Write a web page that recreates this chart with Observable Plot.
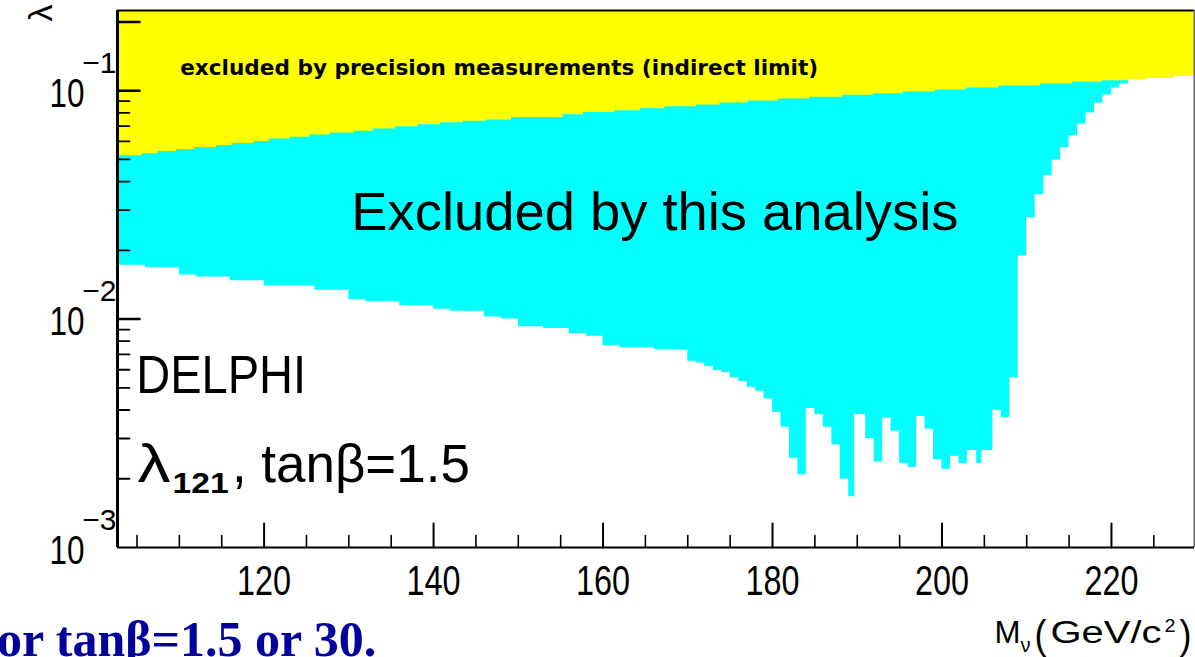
<!DOCTYPE html>
<html>
<head>
<meta charset="utf-8">
<script src="https://cdn.jsdelivr.net/npm/d3@7"></script>
<script src="https://cdn.jsdelivr.net/npm/@observablehq/plot@0.6"></script>
<style>
  html, body { margin: 0; padding: 0; background: #fff; width: 1195px; height: 657px; overflow: hidden; }
  #wrap { position: relative; width: 1195px; height: 657px; }
  #note { position: absolute; left: -3px; top: 614px; font: bold 50px "Liberation Serif", "Times New Roman", serif;
          line-height: 50px; color: #00009c; white-space: nowrap; }
</style>
</head>
<body>
<div id="wrap"></div>
<script>
// ---- axis ranges ----
const xMin = 102.7, xMax = 229.8;
const yMin = 0.001, yTop = 0.2244;

// ---- lower edge of the region excluded by this analysis (step histogram) ----
const lowMass = [102.7, 106, 110, 112, 116, 120, 126, 130, 132, 136, 140, 142, 146, 148, 150, 153, 156, 158, 160, 162, 166,
  170, 171, 172, 173, 174, 175, 176, 177, 178, 179, 180, 181, 182, 183, 184, 185, 186, 187, 188, 189, 189.7,
  191, 192, 193, 194, 195, 196, 197, 198, 199, 200, 201, 202, 203, 204.1, 204.7, 206, 207, 208,
  209, 210, 211, 212, 213, 214, 215, 216, 217, 218, 219, 220, 221];
const lowLambda = [0.0172, 0.0168, 0.0156, 0.0153, 0.0147, 0.01395, 0.01336, 0.01215, 0.0119, 0.01148, 0.01103, 0.01081,
  0.0102, 0.0100, 0.00925, 0.00909, 0.00864, 0.00841, 0.00765, 0.0075, 0.00736,
  0.00654, 0.00643, 0.0062, 0.00596, 0.00584, 0.00553, 0.00533, 0.00503, 0.00483, 0.00447, 0.0039, 0.00336, 0.00246,
  0.00208, 0.00406, 0.00382, 0.00336, 0.00282, 0.00199, 0.00167, 0.00382,
  0.00299, 0.00237, 0.00369, 0.00323, 0.00233, 0.00224, 0.00375, 0.00329, 0.00242, 0.0022, 0.00251, 0.00233, 0.00266,
  0.00233, 0.00266, 0.00399, 0.00371, 0.00553,
  0.0189, 0.0278, 0.035, 0.0424, 0.0497, 0.0564, 0.0635, 0.0714, 0.0799, 0.088, 0.0958, 0.1028, 0.107];
const lowEndMass = 222;

// ---- indirect limit from precision measurements (lower edge of yellow band) ----
const limitMass = [102.7, 105.6, 107.5, 109.7, 111.8, 114.4, 116.2, 118.8, 120.6, 123.1, 125.4, 127.8, 130.6, 132.9,
  135.5, 138.2, 140.8, 143.5, 146.3, 149.2, 155.3, 157.7, 161.4, 164.4, 167.3, 171.0, 173.8, 177.1, 180.7, 184.4,
  188.3, 191.9, 195.4, 199.2, 202.9, 206.7, 211.6, 215.4, 218.9, 221.9, 224.1, 227.5];
const limitLambda = [0.0519, 0.0529, 0.0542, 0.0553, 0.0564, 0.0575, 0.0587, 0.0599, 0.0614, 0.0626, 0.0639, 0.0652,
  0.0665, 0.0679, 0.0695, 0.0709, 0.0724, 0.0734, 0.0744, 0.0764, 0.0785, 0.0803, 0.0817, 0.0834, 0.0851, 0.0866,
  0.0883, 0.0901, 0.0920, 0.0935, 0.0954, 0.0970, 0.0987, 0.1007, 0.1027, 0.1048, 0.1070, 0.1088, 0.1106, 0.1114,
  0.1132, 0.1155];

// ---- ticks ----
const yLabelTicks = [0.001, 0.01, 0.1];
const yLabelExps = ["\u22123", "\u22122", "\u22121"];
const yMajorTicks = [0.01, 0.1, 0.2];
const yMinorTicks = [0.002, 0.003, 0.004, 0.005, 0.006, 0.007, 0.008, 0.009,
                     0.02, 0.03, 0.04, 0.05, 0.06, 0.07, 0.08, 0.09];
const xMajorTicks = [120, 140, 160, 180, 200, 220];
const xMinorTicks = [105, 110, 115, 125, 130, 135, 145, 150, 155, 165, 170, 175, 185, 190, 195, 205, 210, 215, 225];

// ---- tables for the marks ----
const lowRows = lowMass.map((m, i) => ({m, lam: lowLambda[i]}))
  .concat([{m: lowEndMass, lam: lowLambda[lowLambda.length - 1]}]);
const limitRows = limitMass.map((m, i) => ({m, lam: limitLambda[i]}))
  .concat([{m: xMax, lam: limitLambda[limitLambda.length - 1]}]);

const mL = 117, mT = 10, mR = 1, mB = 110;

// in-plot annotations (data coordinates)
const notes = [
  {text: "excluded by precision measurements (indirect limit)", m: 110.1, lam: 0.1175, size: 21, width: 638, family: "DejaVu Sans", weight: "bold"},
  {text: "Excluded by this analysis", m: 130.3, lam: 0.0246, size: 53, width: 607},
  {text: "DELPHI", m: 104.9, lam: 0.00474, size: 54, width: 170},
  {text: "\u03bb", m: 105.05, lam: 0.00193, size: 54, width: 33},
  {text: "121", m: 109.2, lam: 0.00173, size: 30, width: 56, weight: "bold"},
  {text: ", tan\u03b2=1.5", m: 116.2, lam: 0.00193, size: 54, width: 238}
];
// axis title pieces (pixel positions)
const titleBits = [
  {text: "M", px: 994, py: 642, size: 31, width: 26},
  {text: "\u03bd", px: 1020, py: 651, size: 20, width: 10},
  {text: "(", px: 1034, py: 648, size: 40, width: 12},
  {text: "GeV/c", px: 1050, py: 642, size: 31, width: 111},
  {text: "2", px: 1164, py: 631, size: 19, width: 11},
  {text: ")", px: 1179, py: 648, size: 40, width: 12}
];
// target text widths (px), keyed by text
const widths = new Map([...notes, ...titleBits].map(d => [d.text, d.width]));
widths.set("10", 35);
xMajorTicks.forEach(t => widths.set(String(t), 54));

const stick = {draw(context, l) { context.moveTo(0, 0); context.lineTo(0, -l); }};

const marks = [
  Plot.areaY(lowRows, {x: "m", y1: "lam", y2: () => yTop, curve: "step-after", fill: "#00ffff"}),
  Plot.areaY(limitRows, {x: "m", y1: "lam", y2: () => yTop, curve: "step-after", fill: "#ffff00"}),
  // frame
  Plot.ruleY([yTop], {stroke: "black", strokeWidth: 2}),
  Plot.ruleX([xMax], {stroke: "#666", strokeWidth: 2}),
  Plot.ruleY([yMin], {stroke: "black", strokeWidth: 2}),
  Plot.ruleX([xMin], {stroke: "black", strokeWidth: 3}),
  // ticks
  Plot.vector(yMajorTicks, {y: d => d, frameAnchor: "left", length: 22, rotate: 90, anchor: "start", shape: stick, stroke: "black", strokeWidth: 2.5}),
  Plot.vector(yMinorTicks, {y: d => d, frameAnchor: "left", length: 12, rotate: 90, anchor: "start", shape: stick, stroke: "black", strokeWidth: 1.8}),
  Plot.vector(xMajorTicks, {x: d => d, frameAnchor: "bottom", length: 24, rotate: 0, anchor: "start", shape: stick, stroke: "black", strokeWidth: 2}),
  Plot.vector(xMinorTicks, {x: d => d, frameAnchor: "bottom", length: 12, rotate: 0, anchor: "start", shape: stick, stroke: "black", strokeWidth: 1.6}),
  // tick labels
  Plot.text(yLabelTicks, {y: d => d, frameAnchor: "left", text: () => "10", textAnchor: "end", lineAnchor: "bottom",
    dx: -33, dy: 16, fontSize: 40, fill: "black"}),
  Plot.text(yLabelTicks, {y: d => d, frameAnchor: "left", text: (d, i) => yLabelExps[i], textAnchor: "end", lineAnchor: "bottom",
    dx: -1, dy: -18, fontSize: 30, fill: "black"}),
  Plot.text(xMajorTicks, {x: d => d, frameAnchor: "bottom", text: d => String(d), textAnchor: "middle", lineAnchor: "bottom",
    dy: 47, fontSize: 42, fill: "black"}),
  // y title
  Plot.text(["\u03bb"], {frameAnchor: "top-left", dx: 27 - mL, dy: 21 - mT, rotate: -90, fontSize: 34, fill: "black"}),
  // annotations
  ...notes.map(n => Plot.text([n.text], {x: () => n.m, y: () => n.lam, text: d => d, textAnchor: "start", lineAnchor: "bottom",
    fontSize: n.size, fontWeight: n.weight || "normal", fontFamily: n.family || "Liberation Sans, Arial, sans-serif",
    fill: "black"})),
  ...titleBits.map(b => Plot.text([b.text], {frameAnchor: "top-left", dx: b.px - mL, dy: b.py - mT, text: d => d,
    textAnchor: "start", lineAnchor: "bottom", fontSize: b.size, fill: "black"}))
];

const chart = Plot.plot({
  width: 1195, height: 657,
  marginLeft: mL, marginTop: mT, marginRight: mR, marginBottom: mB,
  style: {fontFamily: "Liberation Sans, Arial, sans-serif", background: "white", overflow: "visible"},
  x: {domain: [xMin, xMax], axis: null},
  y: {type: "log", domain: [yMin, yTop], axis: null},
  marks
});

// fit the wide/condensed lettering of the original to its measured widths
chart.querySelectorAll("text").forEach(t => {
  const txt = t.textContent;
  if (widths.has(txt) && !t.getAttribute("transform")?.includes("rotate")) {
    t.setAttribute("textLength", widths.get(txt));
    t.setAttribute("lengthAdjust", "spacingAndGlyphs");
  }
});

const wrap = document.getElementById("wrap");
wrap.appendChild(chart);
const note = document.createElement("div");
note.id = "note";
note.textContent = "or tan\u03b2=1.5 or 30.";
wrap.appendChild(note);
</script>
</body>
</html>
